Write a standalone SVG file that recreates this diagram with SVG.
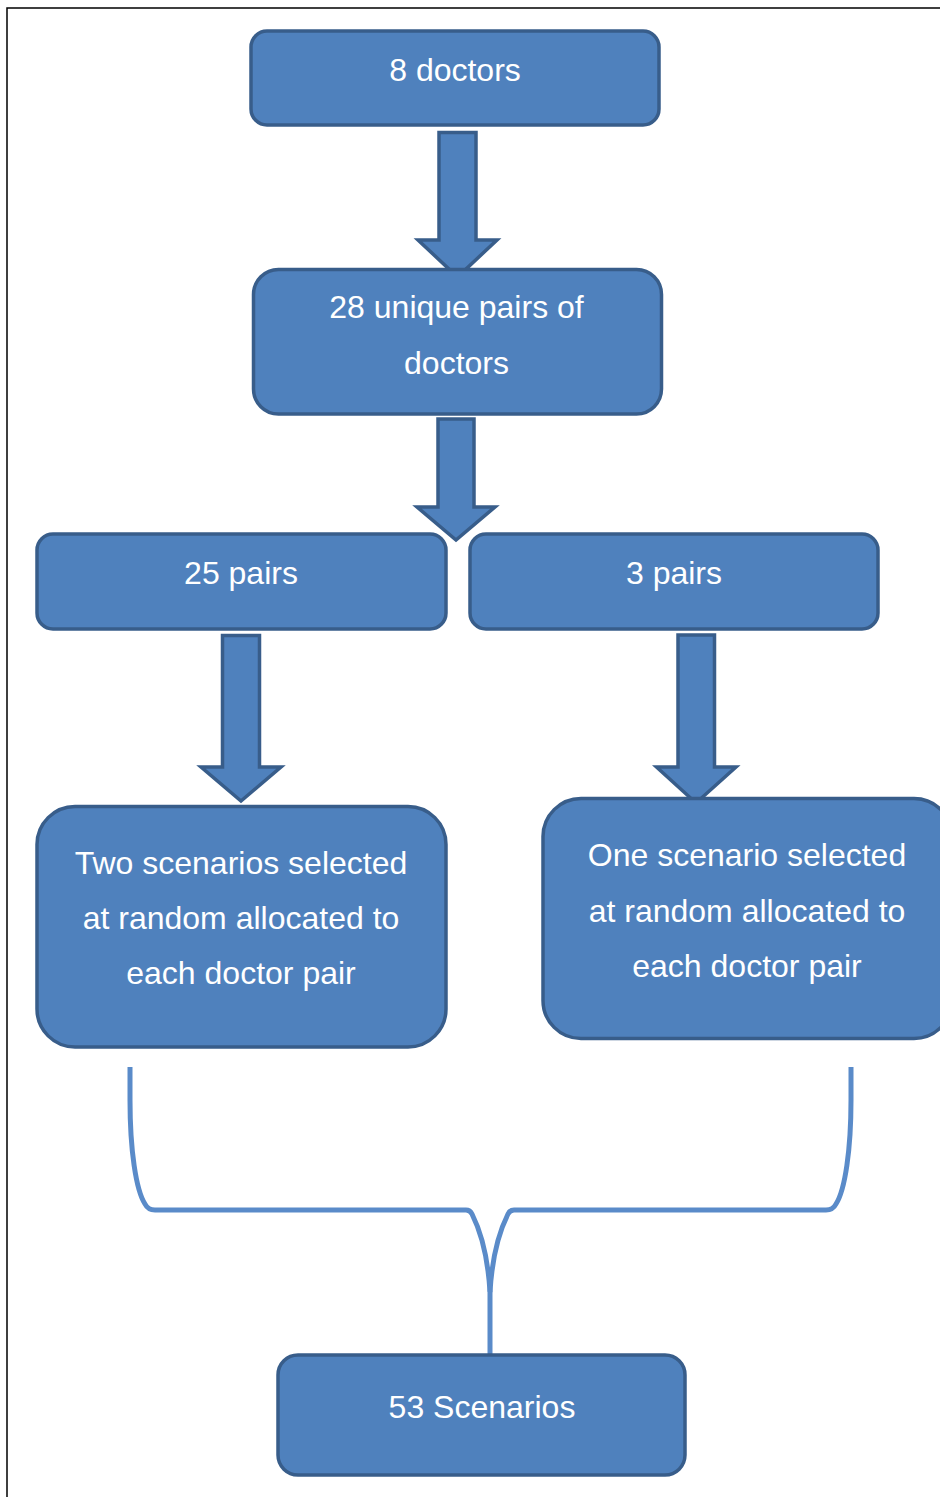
<svg xmlns="http://www.w3.org/2000/svg" width="940" height="1497" viewBox="0 0 940 1497">
<style>
.box{fill:#4f81bd;stroke:#385d8a;stroke-width:3.5}
.arr{fill:#4f81bd;stroke:#385d8a;stroke-width:3.5;stroke-linejoin:miter}
.t{font-family:"Liberation Sans",Arial,sans-serif;font-size:32px;fill:#ffffff;text-anchor:middle}
.brace{fill:none;stroke:#5a8bc9;stroke-width:5}
</style>
<rect x="0" y="0" width="940" height="1497" fill="#ffffff"/>
<rect x="7" y="8" width="980" height="1540" fill="none" stroke="#000000" stroke-width="1.5"/>
<g id="connectors">
<polygon class="arr" points="439,132.5 476,132.5 476,240 497,240 457.5,277 418,240 439,240"/>
<polygon class="arr" points="438,419 474,419 474,507 495,507 456,540 417,507 438,507"/>
<polygon class="arr" points="222.5,635.5 259.5,635.5 259.5,767 281,767 241,801 201,767 222.5,767"/>
<polygon class="arr" points="678,635 714.5,635 714.5,767 736,767 696,803 656.5,767 678,767"/>
<path class="brace" d="M130,1067 L130,1100 C130,1150 136,1190 145,1204 Q148,1210 155,1210 L466,1210 Q470,1210 472,1214 C481,1232 488,1258 490,1292 L490,1355"/>
<path class="brace" d="M851,1067 L851,1100 C851,1150 845,1190 836,1204 Q833,1210 826,1210 L514,1210 Q510,1210 508,1214 C499,1232 492,1258 490,1292"/>
</g>
<g id="n1">
<rect class="box" x="251" y="31" width="408" height="94" rx="16"/>
<text class="t" x="455" y="81">8 doctors</text>
</g>
<g id="n2">
<rect class="box" x="253.5" y="269.5" width="408" height="144.5" rx="25"/>
<text class="t" x="456.5" y="318">28 unique pairs of</text>
<text class="t" x="456.5" y="373.5">doctors</text>
</g>
<g id="n3">
<rect class="box" x="37" y="534" width="409" height="95" rx="16"/>
<text class="t" x="241" y="584">25 pairs</text>
</g>
<g id="n4">
<rect class="box" x="470" y="534" width="408" height="95" rx="16"/>
<text class="t" x="674" y="584">3 pairs</text>
</g>
<g id="n5">
<rect class="box" x="37" y="806.5" width="409" height="240.5" rx="38"/>
<text class="t" x="241" y="873.5">Two scenarios selected</text>
<text class="t" x="241" y="929">at random allocated to</text>
<text class="t" x="241" y="984">each doctor pair</text>
</g>
<g id="n6">
<rect class="box" x="543" y="798.5" width="409" height="240" rx="38"/>
<text class="t" x="747" y="866">One scenario selected</text>
<text class="t" x="747" y="921.5">at random allocated to</text>
<text class="t" x="747" y="977">each doctor pair</text>
</g>
<g id="n7">
<rect class="box" x="278" y="1355" width="407" height="120" rx="20"/>
<text class="t" x="482" y="1418">53 Scenarios</text>
</g>
</svg>
